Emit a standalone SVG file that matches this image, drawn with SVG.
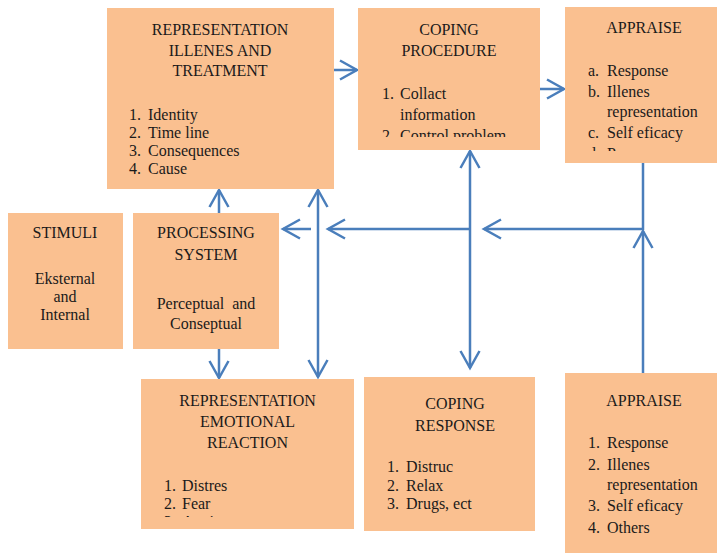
<svg xmlns="http://www.w3.org/2000/svg" width="718" height="555" viewBox="0 0 718 555">
<style>
.box{fill:#fac090;stroke:none}
text{font-family:"Liberation Serif","Times New Roman",serif;font-size:16px;fill:#1a1a1a}
.c{text-anchor:middle}
.ln{stroke:#4a7ebb;stroke-width:2.5;fill:none}
</style>
<defs>
<marker id="ah" markerUnits="userSpaceOnUse" markerWidth="24" markerHeight="24" viewBox="-20 -12 24 24" refX="0" refY="0" orient="auto-start-reverse">
<path d="M-17,-9.5 L0,0 L-17,9.5" fill="none" stroke="#4a7ebb" stroke-width="2.5"/>
</marker>
<clipPath id="cp2"><rect x="358" y="8" width="182" height="129"/></clipPath>
<clipPath id="cp3"><rect x="565" y="7" width="152" height="144"/></clipPath>
<clipPath id="cp6"><rect x="141" y="379" width="213" height="138"/></clipPath>
</defs>

<g id="connectors">
<line class="ln" x1="334" y1="70" x2="357" y2="70" marker-end="url(#ah)"/>
<line class="ln" x1="540" y1="89" x2="564" y2="89" marker-end="url(#ah)"/>
<line class="ln" x1="219" y1="213" x2="219" y2="190" marker-end="url(#ah)"/>
<line class="ln" x1="219" y1="349" x2="219" y2="378" marker-end="url(#ah)"/>
<line class="ln" x1="318" y1="190" x2="318" y2="377" marker-start="url(#ah)" marker-end="url(#ah)"/>
<line class="ln" x1="469" y1="229" x2="328" y2="229" marker-end="url(#ah)"/>
<line class="ln" x1="311" y1="229" x2="283" y2="229" marker-end="url(#ah)"/>
<line class="ln" x1="470" y1="151" x2="470" y2="368" marker-start="url(#ah)" marker-end="url(#ah)"/>
<line class="ln" x1="643" y1="229" x2="484" y2="229" marker-end="url(#ah)"/>
<line class="ln" x1="643" y1="163" x2="643" y2="230"/>
<line class="ln" x1="643" y1="373" x2="643" y2="231" marker-end="url(#ah)"/>
</g>

<g id="rep-illness">
<rect class="box" x="107" y="8" width="227" height="181"/>
<text class="c" x="220" y="35">REPRESENTATION</text>
<text class="c" x="220" y="56">ILLENES AND</text>
<text class="c" x="220" y="76">TREATMENT</text>
<text x="129" y="120">1.</text><text x="148" y="120">Identity</text>
<text x="129" y="138">2.</text><text x="148" y="138">Time line</text>
<text x="129" y="156">3.</text><text x="148" y="156">Consequences</text>
<text x="129" y="174">4.</text><text x="148" y="174">Cause</text>
</g>

<g id="coping-procedure">
<rect class="box" x="358" y="8" width="182" height="142"/>
<text class="c" x="449" y="35">COPING</text>
<text class="c" x="449" y="56">PROCEDURE</text>
<g clip-path="url(#cp2)">
<text x="382" y="99">1.</text><text x="400" y="99">Collact</text>
<text x="400" y="120">information</text>
<text x="382" y="141">2.</text><text x="400" y="141">Control  problem</text>
</g>
</g>

<g id="appraise-top">
<rect class="box" x="565" y="7" width="152" height="156"/>
<text class="c" x="644" y="33">APPRAISE</text>
<g clip-path="url(#cp3)">
<text x="588" y="76">a.</text><text x="607" y="76">Response</text>
<text x="588" y="97">b.</text><text x="607" y="97">Illenes</text>
<text x="607" y="117">representation</text>
<text x="588" y="138">c.</text><text x="607" y="138">Self eficacy</text>
<text x="588" y="159">d.</text><text x="607" y="159">Proces</text>
</g>
</g>

<g id="stimuli">
<rect class="box" x="8" y="213" width="115" height="136"/>
<text class="c" x="65" y="238">STIMULI</text>
<text class="c" x="65" y="284">Eksternal</text>
<text class="c" x="65" y="302">and</text>
<text class="c" x="65" y="320">Internal</text>
</g>

<g id="processing">
<rect class="box" x="133" y="213" width="146" height="136"/>
<text class="c" x="206" y="238">PROCESSING</text>
<text class="c" x="206" y="260">SYSTEM</text>
<text class="c" x="206" y="309" xml:space="preserve">Perceptual  and</text>
<text class="c" x="206" y="329">Conseptual</text>
</g>

<g id="rep-emotional">
<rect class="box" x="141" y="379" width="213" height="150"/>
<text class="c" x="247.5" y="406">REPRESENTATION</text>
<text class="c" x="247.5" y="427">EMOTIONAL</text>
<text class="c" x="247.5" y="448">REACTION</text>
<g clip-path="url(#cp6)">
<text x="164" y="491">1.</text><text x="182" y="491">Distres</text>
<text x="164" y="509">2.</text><text x="182" y="509">Fear</text>
<text x="164" y="527">3.</text><text x="182" y="527">Anxiety</text>
</g>
</g>

<g id="coping-response">
<rect class="box" x="364" y="377" width="171" height="154"/>
<text class="c" x="455" y="409">COPING</text>
<text class="c" x="455" y="431">RESPONSE</text>
<text x="387" y="472">1.</text><text x="406" y="472">Distruc</text>
<text x="387" y="491">2.</text><text x="406" y="491">Relax</text>
<text x="387" y="509">3.</text><text x="406" y="509">Drugs, ect</text>
</g>

<g id="appraise-bottom">
<rect class="box" x="565" y="373" width="152" height="180"/>
<text class="c" x="644" y="406">APPRAISE</text>
<text x="588" y="448">1.</text><text x="607" y="448">Response</text>
<text x="588" y="470">2.</text><text x="607" y="470">Illenes</text>
<text x="607" y="490">representation</text>
<text x="588" y="511">3.</text><text x="607" y="511">Self eficacy</text>
<text x="588" y="533">4.</text><text x="607" y="533">Others</text>
</g>
</svg>
